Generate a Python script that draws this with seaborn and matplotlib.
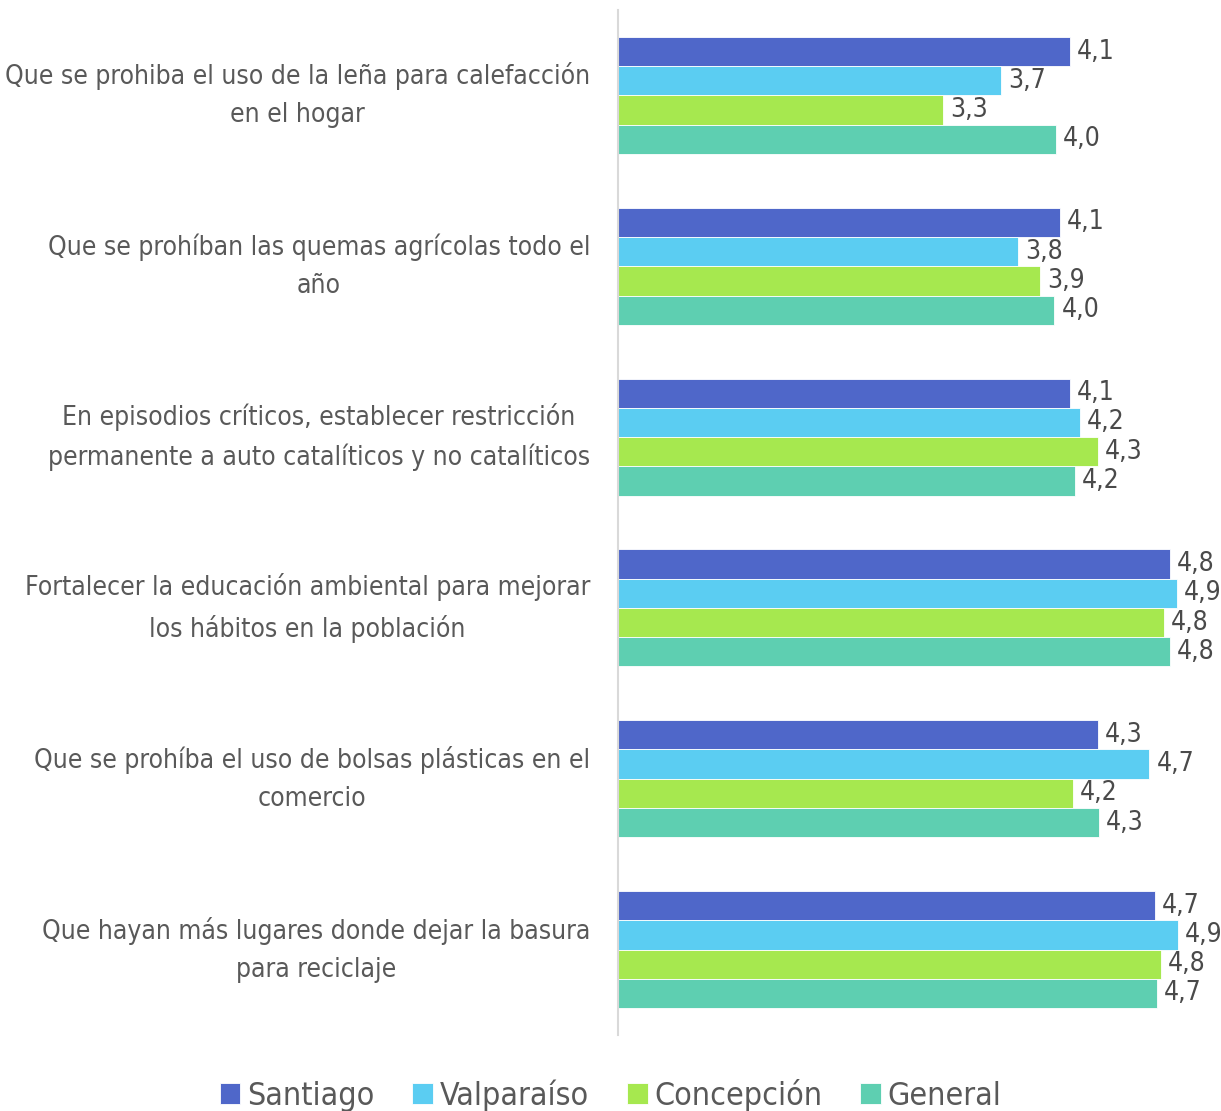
import pandas as pd
import numpy as np
import matplotlib
matplotlib.use("Agg")
import matplotlib.pyplot as plt
import seaborn as sns

# Datos (escala 1 a 5)
preguntas = [
    "Que se prohiba el uso de la leña para calefacción\nen el hogar",
    "Que se prohíban las quemas agrícolas todo el\naño",
    "En episodios críticos, establecer restricción\npermanente a auto catalíticos y no catalíticos",
    "Fortalecer la educación ambiental para mejorar\nlos hábitos en la población",
    "Que se prohíba el uso de bolsas plásticas en el\ncomercio",
    "Que hayan más lugares donde dejar la basura\npara reciclaje",
]
santiago = [4.14, 4.07, 4.14, 4.83, 4.33, 4.73]
valparaiso = [3.66, 3.78, 4.21, 4.88, 4.69, 4.89]
concepcion = [3.26, 3.93, 4.33, 4.79, 4.16, 4.77]
general = [4.04, 4.03, 4.17, 4.83, 4.34, 4.74]

ciudades = ["Santiago", "Valparaíso", "Concepción", "General"]
colores = ["#4F67C9", "#5BCDF2", "#A6E84F", "#5ECFB1"]

df = pd.DataFrame({
    "pregunta": preguntas * 4,
    "ciudad": np.repeat(ciudades, len(preguntas)),
    "valor": santiago + valparaiso + concepcion + general,
})

sns.set_style("white")
plt.rcParams["font.family"] = ["DejaVu Sans", "Liberation Sans"]
plt.rcParams["font.stretch"] = "condensed"
gris = "#595959"

fig = plt.figure(figsize=(12.21, 11.11), dpi=100)
ax = fig.add_axes([0.506, 0.0684, 0.472, 0.9226])

sns.barplot(data=df, y="pregunta", x="valor", hue="ciudad", order=preguntas,
            hue_order=ciudades, palette=colores, width=0.685, orient="h",
            saturation=1, edgecolor="white", linewidth=0.6, ax=ax)

# etiquetas de valor con coma decimal
for cont in ax.containers:
    ax.bar_label(cont, fmt=lambda v: f"{v:.1f}".replace(".", ","),
                 padding=5, fontsize=19, color="#4A4A4A")

ax.set_xlim(1, 5)
ax.set_xlabel("")
ax.set_ylabel("")
ax.set_xticks([])
ax.tick_params(axis="y", length=0, pad=20, labelsize=19, labelcolor=gris)
for lab in ax.get_yticklabels():
    lab.set_multialignment("center")
    lab.set_linespacing(1.6)
    lab.set_verticalalignment("center")
for s in ["top", "right", "bottom"]:
    ax.spines[s].set_visible(False)
ax.spines["left"].set_color("#D9D9D9")
ax.spines["left"].set_linewidth(1.5)

handles, labels = ax.get_legend_handles_labels()
ax.legend_.remove()
fig.legend(handles, labels, loc="center", bbox_to_anchor=(0.5, 0.014), ncol=4,
           frameon=False, fontsize=23, labelcolor=gris, handlelength=0.65,
           handleheight=0.65, handletextpad=0.2, columnspacing=1.2)

fig.savefig("out.png", dpi=100)
